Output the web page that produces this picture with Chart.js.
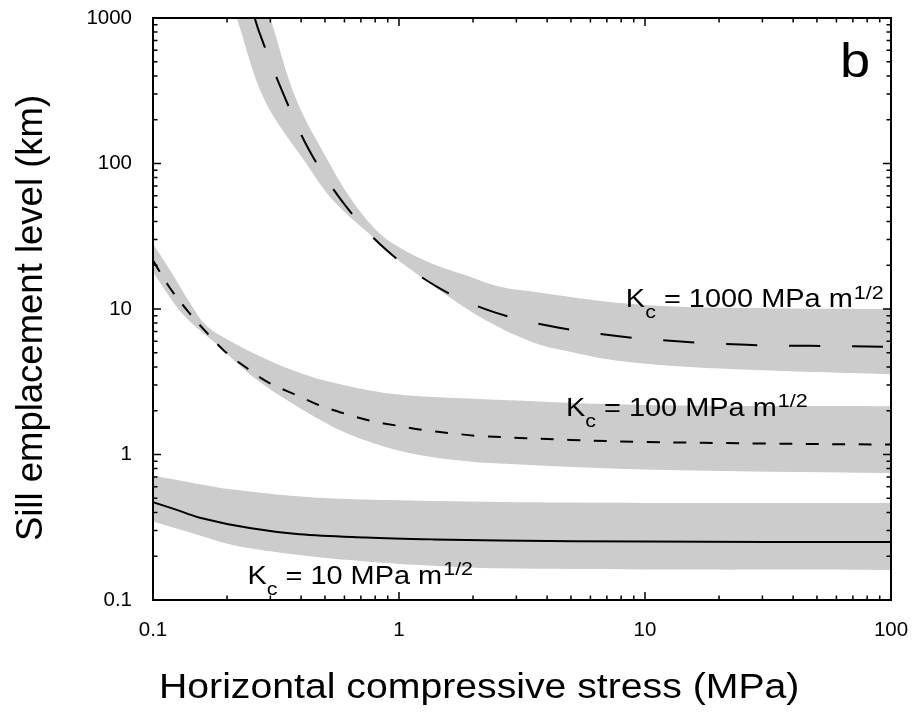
<!DOCTYPE html>
<html>
<head>
<meta charset="utf-8">
<script src="https://cdn.jsdelivr.net/npm/chart.js@4/dist/chart.umd.min.js"></script>
<style>
html,body{margin:0;padding:0;background:#fff;}
canvas{display:block;}
</style>
</head>
<body>
<canvas id="c" width="914" height="721" style="width:914px;height:721px"></canvas>
<script>
// ---------- axis ticks ----------
const xTickValues = [0.1, 1, 10, 100];
const xTickLabels = ['0.1', '1', '10', '100'];
const yTickValues = [0.1, 1, 10, 100, 1000];
const yTickLabels = ['0.1', '1', '10', '100', '1000'];

// ---------- Kc = 1000 MPa m^1/2 ----------
const k1000X = [0.259, 0.271, 0.337, 0.431, 0.597, 0.889, 1.44, 2.4, 4.42, 8.0, 14.4, 26, 47, 100];
const k1000Y = [1000, 789, 307, 124, 53, 25.4, 14.1, 9.6, 7.46, 6.47, 5.95, 5.67, 5.58, 5.5];
const k1000UpperX = [0.300, 0.383, 0.522, 0.63, 0.81, 1.0, 1.375, 1.88, 2.58, 3.7, 7.9, 16, 100];
const k1000UpperY = [1000, 273, 100, 58.9, 34.7, 26.6, 20.4, 17.0, 14.2, 13.0, 11.0, 10.3, 10.0];
const k1000LowerX = [0.219, 0.284, 0.42, 0.539, 0.81, 1.0, 1.29, 1.61, 2.27, 3.51, 4.8, 7.9, 20, 100];
const k1000LowerY = [1000, 273, 100, 55.8, 29.6, 21.5, 15.7, 12.0, 8.3, 5.89, 5.15, 4.40, 3.9, 3.56];

// ---------- Kc = 100 MPa m^1/2 ----------
const k100X = [0.1, 0.117, 0.139, 0.165, 0.195, 0.239, 0.295, 0.377, 0.471, 0.601, 0.77, 0.98, 1.27, 1.63, 2.13, 5, 10, 30, 100];
const k100Y = [21.5, 14.0, 9.6, 6.9, 5.15, 3.96, 3.12, 2.59, 2.19, 1.91, 1.70, 1.58, 1.47, 1.40, 1.34, 1.26, 1.22, 1.19, 1.17];
const k100UpperX = [0.1, 0.117, 0.141, 0.165, 0.211, 0.289, 0.394, 0.539, 0.861, 1.375, 2.34, 10, 100];
const k100UpperY = [28.2, 18.6, 11.1, 7.67, 5.89, 4.52, 3.65, 3.12, 2.66, 2.48, 2.39, 2.19, 2.15];
const k100LowerX = [0.1, 0.132, 0.181, 0.247, 0.337, 0.461, 0.63, 0.861, 1.18, 1.61, 2.34, 10, 100];
const k100LowerY = [17.9, 9.24, 5.74, 3.56, 2.46, 1.79, 1.37, 1.14, 1.0, 0.925, 0.875, 0.79, 0.746];

// ---------- Kc = 10 MPa m^1/2 ----------
const k10X = [0.1, 0.124, 0.155, 0.247, 0.394, 0.736, 1.375, 2.58, 10, 100];
const k10Y = [0.471, 0.418, 0.368, 0.312, 0.283, 0.269, 0.261, 0.256, 0.252, 0.250];
const k10UpperX = [0.1, 0.145, 0.211, 0.394, 0.736, 2.58, 10, 100];
const k10UpperY = [0.716, 0.637, 0.574, 0.515, 0.49, 0.471, 0.465, 0.464];
const k10LowerX = [0.1, 0.145, 0.211, 0.394, 0.736, 1.375, 2.58, 10, 100];
const k10LowerY = [0.347, 0.288, 0.239, 0.204, 0.184, 0.172, 0.165, 0.162, 0.161];

// ---------- curve labels ----------
const curveLabelValues = ['1000', '100', '10'];

// ---------- styling ----------
const FONT = "'Liberation Sans', Arial, Helvetica, sans-serif";
const SX = 1.13;           // horizontal text stretch of the original figure
const BAND_COLOR = 'rgb(204,204,204)';
const TENSION = 0.35;
const labelAnchors = [ // data-space anchors for the Kc labels (left / baseline)
  {x: 8.36, y: 10.26},
  {x: 4.77, y: 1.84},
  {x: 0.242, y: 0.129}
];

function pts(xs, ys) { return xs.map((x, i) => ({x: x, y: ys[i]})); }

function curve(label, xs, ys, dash) {
  return {
    label: label, data: pts(xs, ys), borderColor: '#000', borderWidth: 2,
    borderDash: dash, pointRadius: 0, fill: false,
    tension: TENSION, borderCapStyle: 'butt'
  };
}
function edge(label, xs, ys) {
  return {
    label: label, data: pts(xs, ys), borderColor: 'rgba(0,0,0,0)', borderWidth: 0,
    pointRadius: 0, fill: false, tension: TENSION
  };
}

const datasets = [
  curve('Kc = 1000', k1000X, k1000Y, [31, 32]),
  curve('Kc = 100', k100X, k100Y, [13, 13.5]),
  curve('Kc = 10', k10X, k10Y, []),
  edge('1000 upper', k1000UpperX, k1000UpperY),
  edge('1000 lower', k1000LowerX, k1000LowerY),
  edge('100 upper', k100UpperX, k100UpperY),
  edge('100 lower', k100LowerX, k100LowerY),
  edge('10 upper', k10UpperX, k10UpperY),
  edge('10 lower', k10LowerX, k10LowerY)
];
const bandPairs = [[4, 3], [6, 5], [8, 7]];

function sText(ctx, text, x, y, size) {
  ctx.save();
  ctx.font = size + 'px ' + FONT;
  const w = ctx.measureText(text).width * SX;
  ctx.translate(x, y);
  ctx.scale(SX, 1);
  ctx.fillText(text, 0, 0);
  ctx.restore();
  return w;
}

const bandPlugin = {
  id: 'bands',
  beforeDatasetsDraw(chart) {
    const ctx = chart.ctx, a = chart.chartArea;
    ctx.save();
    ctx.beginPath();
    ctx.rect(a.left, a.top, a.right - a.left, a.bottom - a.top);
    ctx.clip();
    ctx.fillStyle = BAND_COLOR;
    for (const [lo, up] of bandPairs) {
      const l = chart.getDatasetMeta(lo).dataset;
      const u = chart.getDatasetMeta(up).dataset;
      l.updateControlPoints(a, 'x');
      u.updateControlPoints(a, 'x');
      ctx.beginPath();
      l.pathSegment(ctx, l.segments[0], {move: true});
      u.pathSegment(ctx, u.segments[0], {move: false, reverse: true});
      ctx.closePath();
      ctx.fill();
    }
    ctx.restore();
  }
};

function logTicks(min, max) {
  const out = [];
  for (let e = Math.floor(Math.log10(min)) ; e <= Math.ceil(Math.log10(max)); e++) {
    for (let m = 1; m < 10; m++) {
      const v = m * Math.pow(10, e);
      if (v >= min * 0.999 && v <= max * 1.001) out.push({v: v, major: m === 1});
    }
  }
  return out;
}

const framePlugin = {
  id: 'frame',
  afterDatasetsDraw(chart) {
    const ctx = chart.ctx, a = chart.chartArea;
    const xs = chart.scales.x, ys = chart.scales.y;
    ctx.save();
    ctx.strokeStyle = '#000';
    ctx.lineWidth = 1.5;
    ctx.beginPath();
    for (const t of logTicks(xs.min, xs.max)) {
      const p = xs.getPixelForValue(t.v);
      const len = t.major ? 8 : 4.5;
      ctx.moveTo(p, a.bottom); ctx.lineTo(p, a.bottom - len);
      ctx.moveTo(p, a.top); ctx.lineTo(p, a.top + len);
    }
    for (const t of logTicks(ys.min, ys.max)) {
      const p = ys.getPixelForValue(t.v);
      const len = t.major ? 8 : 4.5;
      ctx.moveTo(a.left, p); ctx.lineTo(a.left + len, p);
      ctx.moveTo(a.right, p); ctx.lineTo(a.right - len, p);
    }
    ctx.stroke();
    ctx.lineWidth = 2;
    ctx.strokeRect(a.left, a.top, a.right - a.left, a.bottom - a.top);

    // curve labels
    ctx.fillStyle = '#000';
    ctx.textBaseline = 'alphabetic';
    ctx.textAlign = 'left';
    labelAnchors.forEach((an, i) => {
      let x = xs.getPixelForValue(an.x);
      const y = ys.getPixelForValue(an.y);
      x += sText(ctx, 'K', x, y, 25.6);
      x += sText(ctx, 'c', x, y + 11, 19);
      x += sText(ctx, ' = ' + curveLabelValues[i] + ' MPa m', x, y, 25.6);
      sText(ctx, '1/2', x + 1, y - 8.5, 19);
    });

    // panel letter
    sText(ctx, 'b', a.right - 51, a.top + 59, 48);

    // axis titles
    sText(ctx, 'Horizontal compressive stress (MPa)', 159, 698, 34.7);
    ctx.save();
    ctx.translate(42, 318);
    ctx.rotate(-Math.PI / 2);
    ctx.textAlign = 'center';
    ctx.font = '36.5px ' + FONT;
    ctx.fillText('Sill emplacement level (km)', 0, 0);
    ctx.restore();
    ctx.restore();
  }
};

new Chart(document.getElementById('c'), {
  type: 'line',
  data: {datasets: datasets},
  options: {
    responsive: false,
    animation: false,
    events: [],
    layout: {padding: {top: 18, right: 23, left: 0, bottom: 0}},
    plugins: {legend: {display: false}, tooltip: {enabled: false}},
    scales: {
      x: {
        type: 'logarithmic', min: 0.1, max: 100, position: 'bottom',
        grid: {display: false, drawTicks: false}, border: {display: false},
        afterBuildTicks: (s) => { s.ticks = xTickValues.map(v => ({value: v})); },
        afterFit: (s) => { s.height = 121; s.paddingLeft = 0; s.paddingRight = 0; },
        ticks: {
          autoSkip: false, maxRotation: 0, minRotation: 0, padding: 18, color: '#000',
          font: {family: FONT, size: 20.5},
          callback: (v, i) => xTickLabels[i]
        }
      },
      y: {
        type: 'logarithmic', min: 0.1, max: 1000, position: 'left',
        grid: {display: false, drawTicks: false}, border: {display: false},
        afterBuildTicks: (s) => { s.ticks = yTickValues.map(v => ({value: v})); },
        afterFit: (s) => { s.width = 153; s.paddingTop = 0; s.paddingBottom = 0; },
        ticks: {
          autoSkip: false, padding: 21, color: '#000',
          font: {family: FONT, size: 20.5},
          callback: (v, i) => yTickLabels[i]
        }
      }
    }
  },
  plugins: [bandPlugin, framePlugin]
});
</script>
</body>
</html>
